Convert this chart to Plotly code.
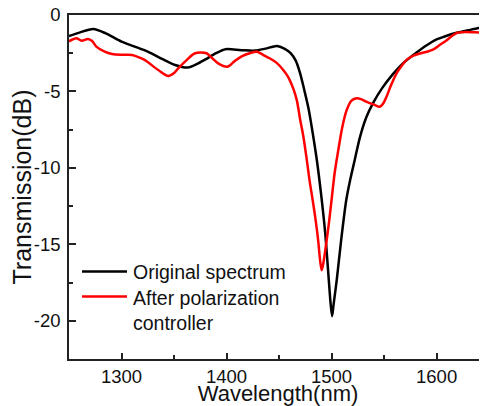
import plotly.graph_objects as go

# ---------------- data ----------------
series_names = ["Original spectrum", "After polarization<br>controller"]

wl_original = [1250, 1260, 1273, 1285, 1300, 1312, 1325, 1338, 1351, 1363, 1372, 1380,
               1390, 1399, 1414, 1427, 1437, 1448, 1455, 1461, 1466, 1470, 1474, 1478,
               1482, 1486, 1490, 1494, 1497, 1499, 1500.5, 1502, 1505, 1509, 1514, 1518,
               1522, 1527, 1533, 1540, 1548, 1558, 1568, 1580, 1591, 1600, 1607, 1620,
               1630, 1640, 1650]
t_original = [-1.38, -1.15, -0.92, -1.2, -1.74, -2.05, -2.4, -2.85, -3.27, -3.44, -3.2, -2.9,
              -2.5, -2.24, -2.3, -2.33, -2.2, -2.03, -2.2, -2.5, -3.0, -3.8, -4.9, -6.1,
              -7.7, -9.5, -11.7, -14.3, -17.0, -18.8, -19.7, -18.9, -17.3, -14.8, -12.1, -10.7,
              -9.5, -8.0, -6.7, -5.7, -4.8, -3.9, -3.16, -2.5, -1.96, -1.6, -1.42, -1.15,
              -1.0, -0.85, -0.65]

wl_after = [1250, 1257, 1262, 1268, 1272, 1276, 1284, 1291, 1300, 1310, 1316, 1322,
            1335, 1344.6, 1350, 1354, 1362, 1370, 1381, 1386, 1392, 1401, 1408, 1414,
            1422, 1429, 1436, 1441, 1448, 1454, 1459, 1464, 1467, 1470, 1473, 1476,
            1479, 1482, 1485, 1487.5, 1489, 1490.6, 1492, 1495, 1497.5, 1500, 1503, 1506.5,
            1510, 1514.5, 1519, 1524, 1528, 1533, 1540, 1546, 1549, 1552.6, 1556, 1562,
            1567, 1572, 1578, 1585, 1591, 1597, 1603, 1610, 1615, 1620, 1627, 1635,
            1642, 1648, 1650]
t_after = [-1.72, -1.52, -1.68, -1.57, -1.7, -2.07, -2.4, -2.55, -2.6, -2.61, -2.75, -2.94,
           -3.6, -3.99, -3.8, -3.49, -2.95, -2.5, -2.5, -2.8, -3.16, -3.38, -3.0, -2.72,
           -2.5, -2.4, -2.65, -2.83, -3.15, -3.6, -4.1, -4.9, -5.6, -6.8, -7.9, -9.26,
           -10.8, -12.1, -13.5, -14.9, -16.0, -16.7, -16.3, -14.9, -13.6, -12.1, -10.3, -8.8,
           -7.4, -6.2, -5.6, -5.45, -5.5, -5.66, -5.85, -6.0, -5.8, -5.3, -4.7, -3.8,
           -3.3, -2.9, -2.65, -2.5, -2.4, -2.25, -1.96, -1.63, -1.35, -1.15, -1.12, -1.13,
           -1.15, -1.25, -1.25]

x_tickvals = [1300, 1400, 1500, 1600]
x_ticktext = ["1300", "1400", "1500", "1600"]
y_tickvals = [0, -5, -10, -15, -20]
y_ticktext = ["0", "-5", "-10", "-15", "-20"]

colors = ["#000000", "#ff0000"]
FONT = "Liberation Sans, Arial, sans-serif"

# The page body has an 8px default margin, so the figure is sized to fit the
# 487x406 window from that offset.
OFF = 8
W, H = 487 - OFF, 406 - OFF
ml, mt = 69 - OFF, 15 - OFF
plot_bottom = 359 - OFF
mb = H - plot_bottom
mr = 0
ph = H - mt - mb
pw = W - ml - mr

def px2paper_x(px):
    return (px - OFF - ml) / pw

def px2paper_y(py):
    return 1 - (py - OFF - mt) / ph

fig = go.Figure()
for wl, t, c, name in [(wl_original, t_original, colors[0], series_names[0]),
                       (wl_after, t_after, colors[1], series_names[1])]:
    fig.add_trace(go.Scatter(x=wl, y=t, mode="lines", name=name,
                             line=dict(color=c, width=2.5, shape="spline", smoothing=0.8),
                             showlegend=False))

# hand-drawn legend (sample lines + labels), positions in page pixels
leg_rows_y = [271.5, 296.5]
for i, (name, c) in enumerate(zip(series_names, colors)):
    yy = px2paper_y(leg_rows_y[i])
    fig.add_shape(type="line", xref="paper", yref="paper",
                  x0=px2paper_x(82), x1=px2paper_x(127), y0=yy, y1=yy,
                  line=dict(color=c, width=2.5))
    fig.add_annotation(xref="paper", yref="paper", x=px2paper_x(131), y=yy,
                       text=name, showarrow=False, xanchor="left",
                       yanchor="top" if i == 1 else "middle",
                       yshift=12 if i == 1 else 0,
                       align="left",
                       font=dict(family=FONT, size=19.5, color="#111111"))

axis_common = dict(showline=True, linecolor="#222222", linewidth=1.5,
                   ticks="inside", tickcolor="#222222", tickwidth=1.5,
                   showgrid=False, zeroline=False, ticklabeloverflow="allow",
                   tickfont=dict(family=FONT, size=18.5, color="#111111"))

fig.update_xaxes(range=[1250, 1648], tickvals=x_tickvals, ticktext=x_ticktext,
                 ticklen=6, mirror=True,
                 minor=dict(ticks="inside", dtick=50, tick0=1250, ticklen=4,
                            tickcolor="#222222", tickwidth=1.5, showgrid=False),
                 title=dict(text="Wavelength(nm)", standoff=1,
                            font=dict(family=FONT, size=22, color="#111111")),
                 **axis_common)
fig.update_yaxes(range=[-22.5, 0], tickvals=y_tickvals, ticktext=y_ticktext,
                 ticklen=7, ticklabelstandoff=3,
                 minor=dict(ticks="inside", tickvals=[-2.5, -7.5, -12.5, -17.5, -22.5],
                            ticklen=4, tickcolor="#222222", tickwidth=1.5, showgrid=False),
                 title=dict(text="Transmission(dB)", standoff=2,
                            font=dict(family=FONT, size=25, color="#111111")),
                 **axis_common)

fig.update_layout(width=W, height=H,
                  margin=dict(l=ml, r=mr, t=mt, b=mb, autoexpand=False),
                  paper_bgcolor="white", plot_bgcolor="white",
                  font=dict(family=FONT))

fig.write_html("out.html")
